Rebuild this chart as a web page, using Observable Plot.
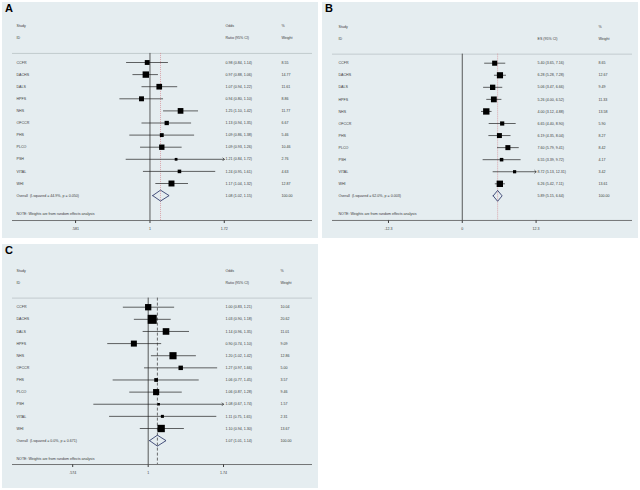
<!DOCTYPE html>
<html><head><meta charset="utf-8">
<script src="https://cdn.jsdelivr.net/npm/d3@7"></script>
<script src="https://cdn.jsdelivr.net/npm/@observablehq/plot@0.6"></script>
<style>
html,body{margin:0;padding:0;background:#fff}
body{width:640px;height:490px;position:relative;overflow:hidden;font-family:"Liberation Sans",Arial,sans-serif}
.panel{position:absolute;background:#e5edf0}
.panel svg{position:absolute;left:0;top:0}
.lab{position:absolute;left:3px;top:0px;font-weight:bold;font-size:11px;line-height:13px;color:#000;z-index:2}
</style></head><body>
<div id="pA" class="panel" style="left:2px;top:2px;width:316px;height:236px"><div class="lab">A</div></div>
<div id="pB" class="panel" style="left:322px;top:2px;width:316px;height:236px"><div class="lab">B</div></div>
<div id="pC" class="panel" style="left:2px;top:244px;width:316px;height:244px"><div class="lab">C</div></div>
<script>
const studies = ["CCFR","DACHS","DALS","HPFS","NHS","OFCCR","PHS","PLCO","PSH","VITAL","WHI"];

// Panel A: odds ratios
const estA = [0.98, 0.97, 1.07, 0.94, 1.25, 1.13, 1.09, 1.09, 1.21, 1.24, 1.17];
const loA  = [0.84, 0.88, 0.94, 0.80, 1.10, 0.94, 0.86, 0.93, 0.84, 0.95, 1.04];
const hiA  = [1.14, 1.06, 1.22, 1.10, 1.42, 1.35, 1.38, 1.26, 1.72, 1.61, 1.32];
const wA   = [8.55, 14.77, 11.61, 8.86, 11.77, 6.67, 5.46, 10.46, 2.76, 4.63, 12.87];
const overallA = {est: 1.08, lo: 1.02, hi: 1.15, w: 100, label: "Overall  (I-squared = 44.9%, p = 0.050)"};
const ticksA = [0.581, 1, 1.72];
const tickLabelsA = [".581", "1", "1.72"];
const headA = [["Study","ID"], ["Odds","Ratio (95% CI)"], ["%","Weight"]];

// Panel B: effect sizes
const estB = [5.40, 6.28, 5.06, 5.26, 4.00, 6.65, 6.19, 7.60, 6.55, 8.72, 6.26];
const loB  = [3.65, 5.28, 3.47, 4.00, 3.12, 4.40, 4.35, 5.79, 3.39, 5.13, 5.42];
const hiB  = [7.16, 7.28, 6.66, 6.52, 4.88, 8.90, 8.04, 9.41, 9.72, 12.31, 7.11];
const wB   = [8.65, 12.67, 9.49, 11.33, 13.58, 5.90, 8.27, 8.42, 4.17, 3.42, 13.61];
const overallB = {est: 5.89, lo: 5.15, hi: 6.64, w: 100, label: "Overall  (I-squared = 62.0%, p = 0.003)"};
const ticksB = [-12.3, 0, 12.3];
const tickLabelsB = ["-12.3", "0", "12.3"];
const headB = [["Study","ID"], ["","ES (95% CI)"], ["%","Weight"]];

// Panel C: odds ratios
const estC = [1.00, 1.03, 1.14, 0.90, 1.20, 1.27, 1.06, 1.06, 1.08, 1.11, 1.10];
const loC  = [0.83, 0.90, 0.96, 0.74, 1.02, 0.97, 0.77, 0.87, 0.67, 0.75, 0.94];
const hiC  = [1.21, 1.18, 1.35, 1.10, 1.42, 1.66, 1.45, 1.28, 1.74, 1.65, 1.30];
const wC   = [10.04, 20.62, 11.01, 9.09, 12.86, 5.00, 3.57, 9.46, 1.57, 2.31, 13.67];
const overallC = {est: 1.07, lo: 1.01, hi: 1.14, w: 100, label: "Overall  (I-squared = 0.0%, p = 0.671)"};
const ticksC = [0.574, 1, 1.74];
const tickLabelsC = [".574", "1", "1.74"];
const headC = [["Study","ID"], ["Odds","Ratio (95% CI)"], ["%","Weight"]];

const note = "NOTE: Weights are from random effects analysis";

function forest(c) {
  const rows = studies.map((s, i) => ({label: s, est: c.est[i], lo: c.lo[i], hi: c.hi[i], w: c.w[i], row: i}));
  const oRow = studies.length;
  const ov = {...c.overall, row: oRow};
  const xMax = c.ticks[c.ticks.length - 1];
  const f2 = v => v.toFixed(2);
  const ciTxt = d => `${f2(d.est)} (${f2(d.lo)}, ${f2(d.hi)})`;
  const plain = rows.filter(d => d.hi < xMax);
  const clipped = rows.filter(d => d.hi >= xMax);
  const h = 0.45;
  const diamond = [
    {x: ov.lo, y: oRow}, {x: ov.est, y: oRow - h}, {x: ov.hi, y: oRow},
    {x: ov.est, y: oRow + h}, {x: ov.lo, y: oRow}
  ];
  const top = -4, sep = -0.75, noteRow = oRow + 1.5;
  const mt = c.base + c.step * top;
  const mb = c.height - (c.base + c.step * c.yBot);
  const t = {fontSize: 3.6, fill: "#3a3a3a", textAnchor: "start", frameAnchor: "left"};
  const headMarks = c.head.map((col, j) =>
    Plot.text(col.map((s, k) => ({s, row: [-3, -2][k]})).filter(d => d.s), {...t, text: "s", y: "row", dx: c.dx[j]})
  );
  return Plot.plot({
    width: c.width, height: c.height,
    marginLeft: 10, marginRight: c.width - 310, marginTop: mt, marginBottom: mb,
    style: {fontSize: "3.6px", fontFamily: "'Liberation Sans', Arial, sans-serif", color: "#3a3a3a", background: "transparent"},
    x: {type: c.type, domain: c.xDomain, ticks: c.ticks, tickFormat: d => c.tickLabels[c.ticks.indexOf(d)], tickSize: 3, tickPadding: 4, label: null},
    y: {domain: [top, c.yBot], reverse: true, axis: null},
    r: {range: [0, c.R]},
    marks: [
      Plot.ruleY([sep], {stroke: "#a9b3b7", strokeWidth: 0.6}),
      Plot.ruleY([c.yBot], {stroke: "#555", strokeWidth: 0.8}),
      Plot.ruleX([c.nullValue], {y1: sep, y2: c.yBot, stroke: "#333", strokeWidth: 0.8}),
      Plot.ruleX([ov.est], {y1: sep, y2: c.yBot, stroke: c.dashColor, strokeWidth: 0.7, strokeDasharray: c.dash}),
      Plot.link(plain, {x1: "lo", x2: "hi", y1: "row", y2: "row", stroke: "#222", strokeWidth: 0.7}),
      Plot.arrow(clipped, {x1: "lo", x2: d => Math.min(d.hi, xMax), y1: "row", y2: "row", stroke: "#222", strokeWidth: 0.7, headLength: 4, headAngle: 90, bend: 0}),
      Plot.dot(rows, {x: "est", y: "row", r: "w", symbol: "square", fill: "#000", stroke: null}),
      Plot.line(diamond, {x: "x", y: "y", stroke: "#1e2a5e", strokeWidth: 0.8}),
      ...headMarks,
      Plot.text(rows, {...t, text: "label", y: "row", dx: c.dx[0]}),
      Plot.text([ov], {...t, text: "label", y: "row", dx: c.dx[0]}),
      Plot.text([...rows, ov], {...t, text: ciTxt, y: "row", dx: c.dx[1]}),
      Plot.text([...rows, ov], {...t, text: d => f2(d.w), y: "row", dx: c.dx[2]}),
      Plot.text([note], {...t, text: d => d, y: () => noteRow, dx: c.dx[0]})
    ]
  });
}

const cfgA = {est: estA, lo: loA, hi: hiA, w: wA, overall: overallA, ticks: ticksA, tickLabels: tickLabelsA, head: headA,
  type: "log", xDomain: [0.3666, 3.275], nullValue: 1, width: 316, height: 236, base: 60, step: 12.1, yBot: 13.06,
  R: 3.6, dx: [4, 213, 269], dashColor: "#d4868e", dash: "1,1"};
const cfgB = {est: estB, lo: loB, hi: hiB, w: wB, overall: overallB, ticks: ticksB, tickLabels: tickLabelsB, head: headB,
  type: "linear", xDomain: [-21.63, 28.37], nullValue: 0, width: 316, height: 236, base: 60.7, step: 12.06, yBot: 13.04,
  R: 3.6, dx: [6, 205, 266], dashColor: "#d4868e", dash: "1,1"};
const cfgC = {est: estC, lo: loC, hi: hiC, w: wC, overall: overallC, ticks: ticksC, tickLabels: tickLabelsC, head: headC,
  type: "log", xDomain: [0.3687, 3.347], nullValue: 1, width: 316, height: 244, base: 62.7, step: 12.13, yBot: 12.97,
  R: 5.1, dx: [4, 213, 268], dashColor: "#333", dash: "3,2"};

document.getElementById("pA").appendChild(forest(cfgA));
document.getElementById("pB").appendChild(forest(cfgB));
document.getElementById("pC").appendChild(forest(cfgC));
</script>
</body></html>
